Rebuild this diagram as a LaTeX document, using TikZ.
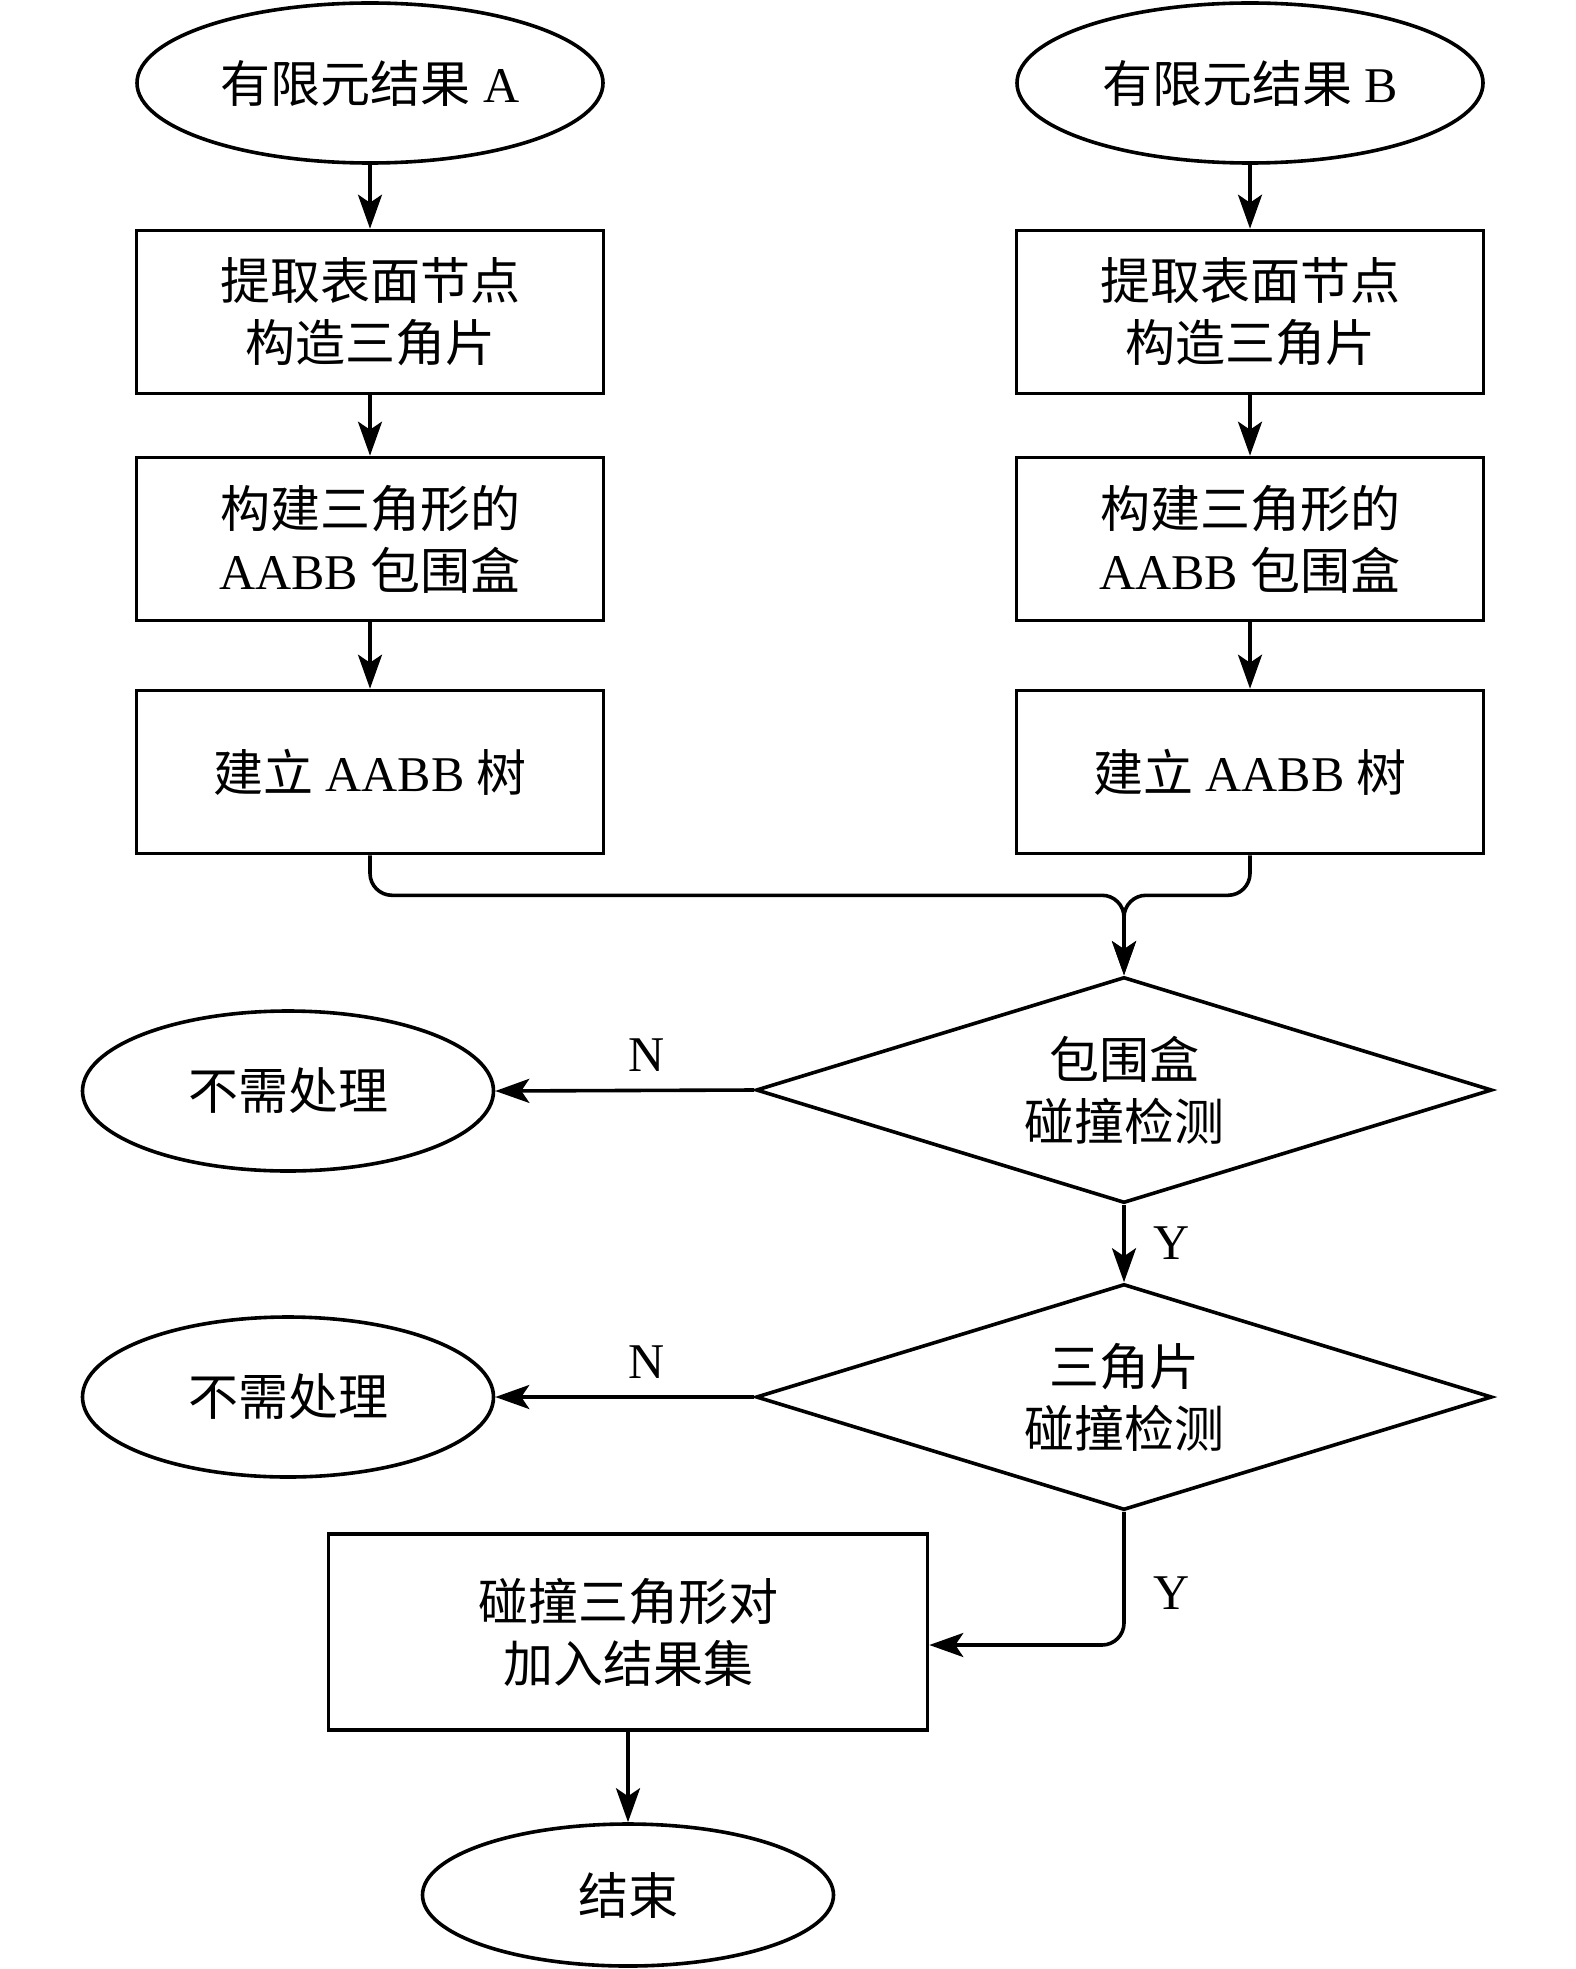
\documentclass[tikz,border=0pt]{standalone}
\usepackage{fontspec}
\setmainfont{Liberation Serif}
\newfontfamily\cjk{Noto Sans CJK SC}
\usetikzlibrary{shapes.geometric,arrows.meta}
\begin{document}
\begin{tikzpicture}[x=1pt,y=-1pt, line width=3.6pt,
  every node/.style={font=\fontsize{50}{62}\selectfont, align=center, inner sep=0pt},
  term/.style={draw, ellipse},
  proc/.style={draw, rectangle, minimum width=467pt, minimum height=163pt},
  dec/.style={draw, diamond, shape aspect=3.26, minimum width=736pt, minimum height=226pt},
  arr/.style={-{Stealth[length=34pt,width=24pt,inset=8pt]}, rounded corners=22pt}]
\useasboundingbox (0,0) rectangle (1575,1969);
% left column
\node[term, minimum width=466pt, minimum height=160pt] (ea) at (370,83) {{\cjk 有限元结果} A};
\node[proc] (a1) at (370,312) {\cjk 提取表面节点\\\cjk 构造三角片};
\node[proc] (a2) at (370,539) {{\cjk 构建三角形的}\\AABB {\cjk 包围盒}};
\node[proc] (a3) at (370,772) {{\cjk 建立} AABB {\cjk 树}};
% right column
\node[term, minimum width=466pt, minimum height=160pt] (eb) at (1250,83) {{\cjk 有限元结果} B};
\node[proc] (b1) at (1250,312) {\cjk 提取表面节点\\\cjk 构造三角片};
\node[proc] (b2) at (1250,539) {{\cjk 构建三角形的}\\AABB {\cjk 包围盒}};
\node[proc] (b3) at (1250,772) {{\cjk 建立} AABB {\cjk 树}};
% decisions
\node[dec] (d1) at (1124,1090) {\cjk 包围盒\\\cjk 碰撞检测};
\node[term, minimum width=411pt, minimum height=160pt] (n1) at (288,1091) {\cjk 不需处理};
\node[dec] (d2) at (1124,1397) {\cjk 三角片\\\cjk 碰撞检测};
\node[term, minimum width=411pt, minimum height=160pt] (n2) at (288,1397) {\cjk 不需处理};
\node[draw, rectangle, minimum width=599pt, minimum height=196pt] (r) at (628,1632) {\cjk 碰撞三角形对\\\cjk 加入结果集};
\node[term, minimum width=411pt, minimum height=142pt] (e) at (628,1895) {\cjk 结束};
% connectors
\draw[arr] (ea) -- (a1);
\draw[arr] (a1) -- (a2);
\draw[arr] (a2) -- (a3);
\draw[arr] (eb) -- (b1);
\draw[arr] (b1) -- (b2);
\draw[arr] (b2) -- (b3);
\draw[arr] (a3.south) -- ++(0,40) -| (d1.north);
\draw[arr] (b3.south) -- ++(0,40) -| (d1.north);
\draw[arr] (d1.west) -- (n1.east);
\draw[arr] (d1.south) -- (d2.north);
\draw[arr] (d2.west) -- (n2.east);
\draw[arr] (d2.south) |- ([yshift=-13pt]r.east);
\draw[arr] (r) -- (e);
% labels
\node (ln1) at (647,1055) {N};
\node (ln2) at (647,1362) {N};
\node (ly1) at (1172,1243) {Y};
\node (ly2) at (1172,1593) {Y};
\end{tikzpicture}
\end{document}
